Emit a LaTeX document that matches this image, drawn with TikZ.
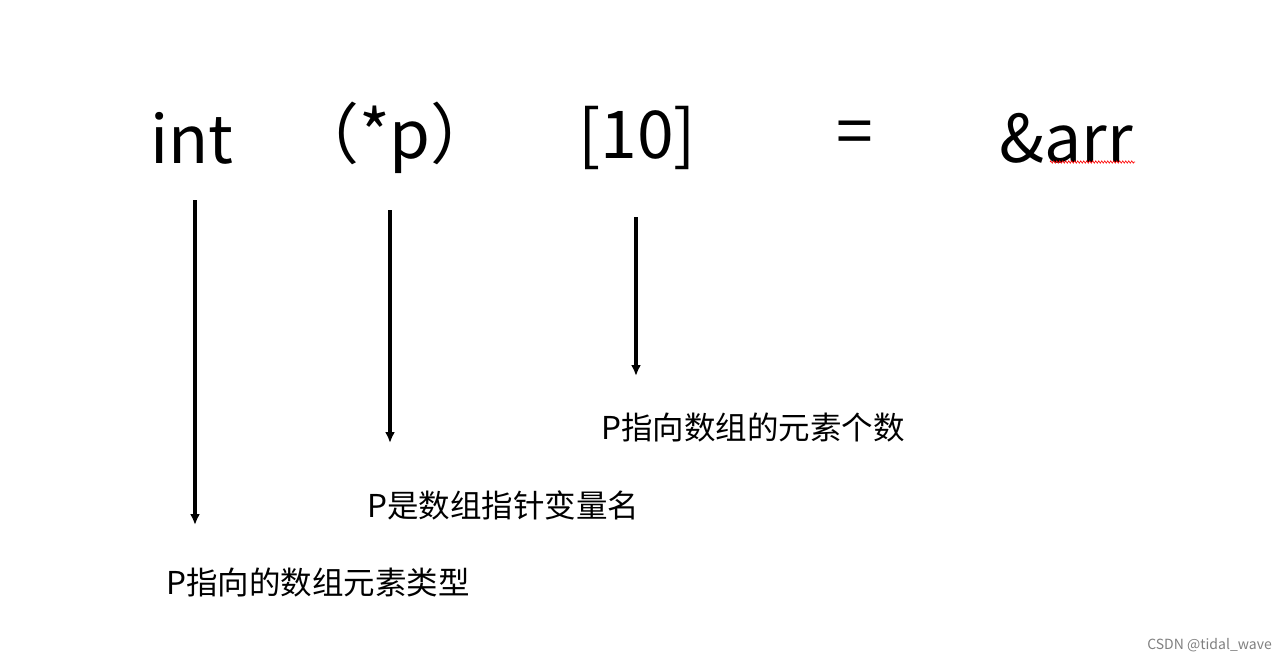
\documentclass[tikz,border=0pt]{standalone}
\usepackage{fontspec}
\setmainfont{Noto Sans CJK SC}
\usetikzlibrary{decorations.pathmorphing,arrows.meta}
\begin{document}
\begin{tikzpicture}[x=1pt,y=-1pt,
  big/.style={font=\fontsize{66}{76}\selectfont,inner sep=0pt},
  lab/.style={font=\fontsize{31.5}{36}\selectfont,inner sep=0pt,anchor=west},
  arr/.style={-{Latex[length=11pt,width=10pt]},line width=3.4pt}]
\useasboundingbox (0,0) rectangle (1286,661);
\node[big] (t1) at (192,138) {int};
\node[big] (t2) at (395,138) {（*p）};
\node[big] (t3) at (637,138) {[10]};
\node[big] (t4) at (855,138) {=};
\node[big] (t5) at (1066,138) {\&arr};
\coordinate (a1s) at (195,200); \coordinate (a1e) at (195,525);
\coordinate (a2s) at (390,210); \coordinate (a2e) at (390,443);
\coordinate (a3s) at (636,217); \coordinate (a3e) at (636,376);
\draw[arr] (a1s) -- (a1e);
\draw[arr] (a2s) -- (a2e);
\draw[arr] (a3s) -- (a3e);
\node[lab] (l1) at (166,583) {P指向的数组元素类型};
\node[lab] (l2) at (367,505) {P是数组指针变量名};
\node[lab] (l3) at (601,428) {P指向数组的元素个数};
\coordinate (w1) at (1050,162); \coordinate (w2) at (1135,162);
\draw[red,line width=0.6pt,decorate,decoration={zigzag,amplitude=1.2pt,segment length=3pt}] (w1) -- (w2);
\node[font=\fontsize{14}{16}\selectfont,text=gray,anchor=east,inner sep=0pt] (wm) at (1272,645) {CSDN @tidal\_wave};
\end{tikzpicture}
\end{document}
